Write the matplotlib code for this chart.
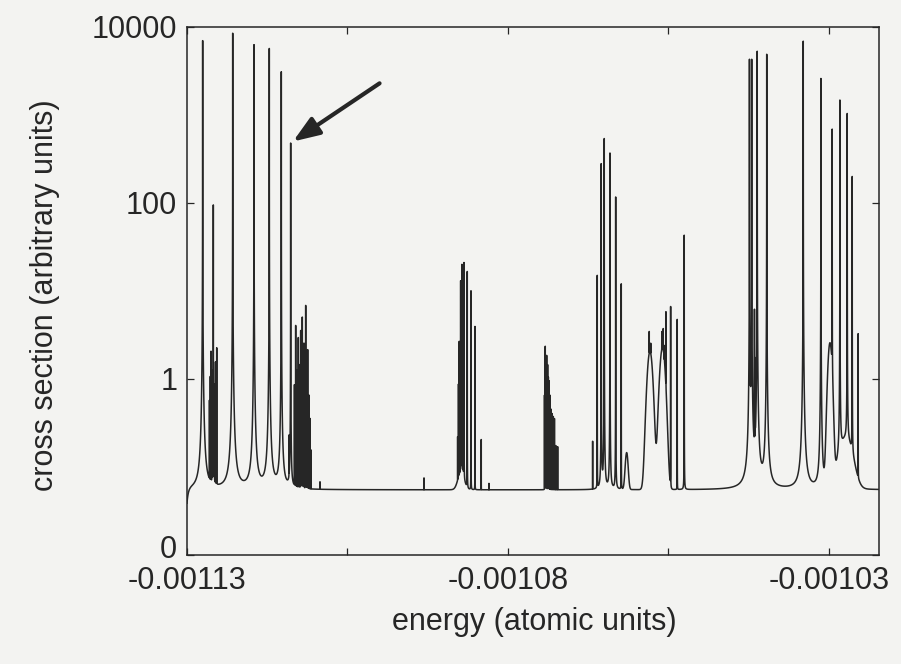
import numpy as np
import matplotlib
matplotlib.use('Agg')
import matplotlib.pyplot as plt
from matplotlib import font_manager
from matplotlib.transforms import ScaledTranslation
from matplotlib.ticker import FixedLocator, FixedFormatter, NullLocator

# all energies below are in units of 1e-6 atomic units
e_min = -1130.0
e_max = -1022.2

background_level = 0.055   # flat continuum between the resonances
threshold_level = 0.035    # value right at the left edge
threshold_scale = 0.25     # how fast the continuum rises at the left edge

sharp_width = 0.0016       # half width of the narrow resonances

# narrow resonances: position, height above the continuum
sharp_energy = [
    -1127.56, -1126.50, -1126.37, -1126.26, -1126.11, -1125.90, -1125.72,
    -1125.56, -1125.37, -1122.88, -1119.56, -1117.18, -1115.31, -1114.11,
    -1113.85, -1113.26, -1113.07, -1112.87, -1112.66, -1112.48, -1112.29,
    -1112.17, -1112.04, -1111.90, -1111.78, -1111.51, -1111.34, -1111.20,
    -1111.00, -1110.84, -1110.69, -1109.28, -1093.08,
    -1087.84, -1087.71, -1087.59, -1087.37, -1087.26, -1087.17, -1087.01,
    -1086.85, -1086.34, -1085.76, -1085.14, -1084.16, -1082.96,
    -1074.31, -1074.19, -1074.08, -1073.97, -1073.82, -1073.71, -1073.61,
    -1073.46, -1073.30, -1073.12, -1072.94, -1072.76, -1072.55, -1072.26,
    -1066.81, -1066.09, -1065.47, -1065.00, -1064.11, -1063.22, -1062.35,
    -1057.99, -1057.76, -1056.04, -1055.81, -1055.62, -1055.39, -1054.66,
    -1053.63, -1052.54,
    -1042.38, -1042.21, -1042.03, -1041.60, -1041.48, -1041.17, -1039.69,
    -1034.00, -1031.25, -1029.49, -1028.29, -1027.15, -1026.37, -1025.44,
]
sharp_height = [
    7000, 0.5, 1.0, 2.0, 1.2, 95, 0.8,
    1.5, 2.2, 8500, 6300, 5700, 3100, 0.15,
    480, 0.8, 4.0, 1.2, 2.9, 1.4, 3.5,
    1.6, 5.0, 1.8, 2.5, 6.8, 1.5, 2.1,
    0.6, 0.3, 0.1, 0.012, 0.02,
    0.15, 0.8, 2.6, 13, 6, 20, 10,
    21, 16.6, 10, 3.9, 0.15, 0.01,
    0.6, 2.3, 1.5, 1.8, 1.4, 1.0, 0.9,
    0.6, 0.4, 0.35, 0.32, 0.3, 0.12, 0.115,
    0.14, 15, 280, 540, 370, 117, 12,
    1.5, 0.6, 1.3, 1.6, 0.8, 5.0, 6.6,
    4.7, 43,
    4300, 2.5, 4300, 6, 1.5, 5300, 4900,
    6900, 2600, 690, 1480, 1040, 200, 3.2,
]

# broad structures: position, height, gaussian width
broad_energy = [-1087.32, -1061.51, -1057.88, -1055.93, -1029.84, -1027.35]
broad_height = [0.03, 0.09, 2.0, 2.2, 2.5, 0.15]
broad_sigma = [0.45, 0.2, 0.37, 0.37, 0.28, 0.93]

x_ticks = [-0.00113, -0.001105, -0.00108, -0.001055, -0.00103]
x_labels = ['-0.00113', '', '-0.00108', '', '-0.00103']
y_ticks = [0.01, 1, 100, 10000]
y_labels = ['0', '1', '100', '10000']

names = {f.name for f in font_manager.fontManager.ttflist}
if 'Liberation Sans Narrow' in names:
    font, size = 'Liberation Sans Narrow', 27
else:
    font, size = 'Liberation Sans', 22
plt.rcParams['font.family'] = [font, 'DejaVu Sans']
plt.rcParams['path.simplify'] = False

ink = '#262626'
paper = '#f3f3f1'

# cross section = continuum + resonances
energy = np.union1d(np.linspace(e_min, e_max, 60001), sharp_energy)
cross = background_level - (background_level - threshold_level) * np.exp(-(energy - e_min) / threshold_scale)
for e0, h in zip(sharp_energy, sharp_height):
    cross += h / (1 + ((energy - e0) / sharp_width) ** 2)
for e0, h, s in zip(broad_energy, broad_height, broad_sigma):
    cross += h * np.exp(-0.5 * ((energy - e0) / s) ** 2)

fig = plt.figure(figsize=(9.01, 6.64), dpi=100, facecolor=paper)
ax = fig.add_axes([187 / 901, 1 - 555 / 664, 692 / 901, 528 / 664])
ax.set_facecolor(paper)

ax.plot(energy * 1e-6, cross, color=ink, lw=1.1)

ax.set_yscale('log')
ax.set_xlim(e_min * 1e-6, e_max * 1e-6)
ax.set_ylim(0.01, 10000)

ax.xaxis.set_major_locator(FixedLocator(x_ticks))
ax.xaxis.set_major_formatter(FixedFormatter(x_labels))
ax.yaxis.set_major_locator(FixedLocator(y_ticks))
ax.yaxis.set_major_formatter(FixedFormatter(y_labels))
ax.yaxis.set_minor_locator(NullLocator())
ax.xaxis.set_minor_locator(NullLocator())

ax.tick_params(direction='in', length=5, width=0.9, colors=ink, labelsize=size,
               top=True, right=True)
ax.tick_params(axis='x', pad=8)
ax.tick_params(axis='y', pad=7)
for sp in ax.spines.values():
    sp.set_color(ink)
    sp.set_linewidth(1.1)

# lift the "0" label a little so it clears the first x label
zero = ax.yaxis.get_major_ticks()[0].label1
zero.set_transform(zero.get_transform() + ScaledTranslation(0, 9 / 100, fig.dpi_scale_trans))

fig.text(534 / 901, 1 - 622 / 664, 'energy (atomic units)', fontsize=size,
         color=ink, ha='center', va='center')
fig.text(45 / 901, 1 - 295 / 664, 'cross section (arbitrary units)', fontsize=size,
         color=ink, ha='center', va='center', rotation=90)

# arrow pointing at the marked resonance
i = sharp_height.index(480)
ax.annotate('', xy=(sharp_energy[i] * 1e-6, sharp_height[i]), xytext=(64, 43),
            textcoords='offset points',
            arrowprops=dict(arrowstyle='-|>,head_length=0.8,head_width=0.3',
                            mutation_scale=20, lw=3, color=ink,
                            shrinkA=0, shrinkB=2))

fig.savefig('out.png', dpi=100, facecolor=paper)
